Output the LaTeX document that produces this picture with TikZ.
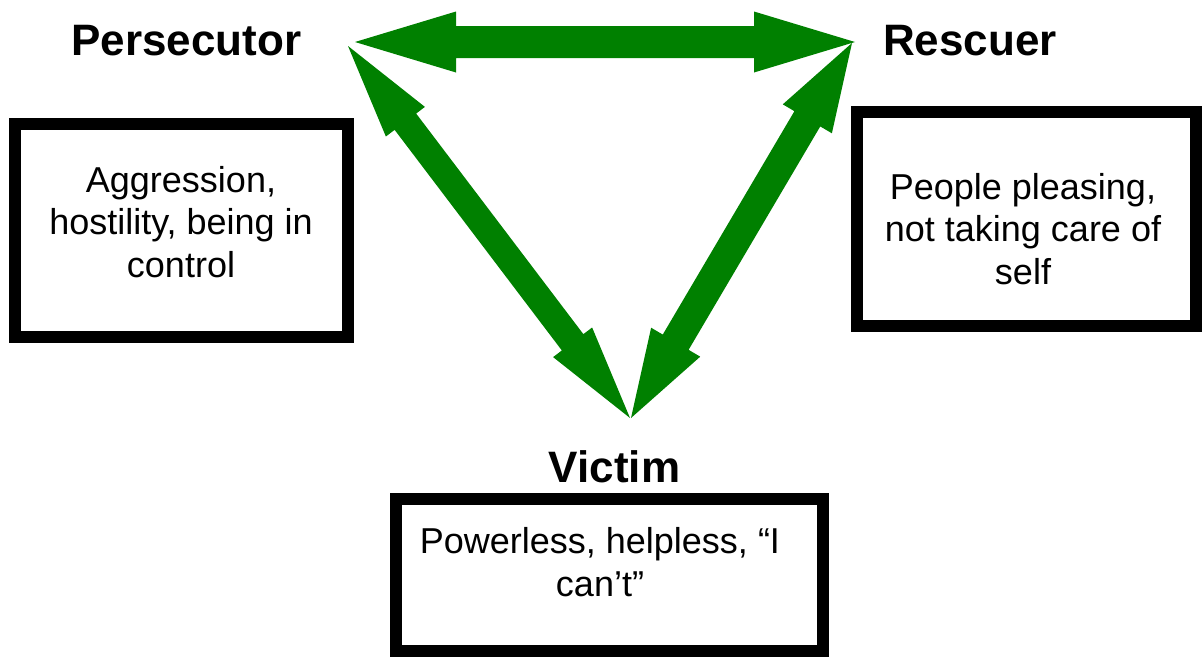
\documentclass[tikz,border=0pt]{standalone}
\usepackage{fontspec}
\setmainfont{Liberation Sans}
\usetikzlibrary{calc}

\definecolor{arrowgreen}{RGB}{0,128,0}

% Double-headed block arrow between two named tips:
% #1,#2 tips, #3 shaft half-width, #4 head half-width, #5 head length
\newcommand{\dblblockarrow}[5]{%
  \fill[arrowgreen]
    (#1)
    -- ($(#1)!#5!(#2)!#4!90:(#2)$)
    -- ($(#1)!#5!(#2)!#3!90:(#2)$)
    -- ($(#2)!#5!(#1)!#3!-90:(#1)$)
    -- ($(#2)!#5!(#1)!#4!-90:(#1)$)
    -- (#2)
    -- ($(#2)!#5!(#1)!#4!90:(#1)$)
    -- ($(#2)!#5!(#1)!#3!90:(#1)$)
    -- ($(#1)!#5!(#2)!#3!-90:(#2)$)
    -- ($(#1)!#5!(#2)!#4!-90:(#2)$)
    -- cycle;}

\tikzset{
  role/.style={font=\fontsize{44}{50}\selectfont\bfseries, anchor=base, inner sep=0pt},
  descbox/.style={draw=black, line width=12pt, fill=white, inner sep=0pt},
  % base anchor of a multi-line text sits on its last line
  desctext/.style={font=\fontsize{36}{42.5}\selectfont, align=center, anchor=base, inner sep=0pt},
}

\begin{document}
\begin{tikzpicture}[x=1pt,y=-1pt]
  \useasboundingbox (0,0) rectangle (1202,656);

  % role titles
  \node[role] (persecutor) at (186.5,55) {Persecutor};
  \node[role] (rescuer)    at (970,55)   {Rescuer};
  \node[role] (victim)     at (614.5,482) {Victim};

  % description boxes
  \node[descbox, minimum width=333pt, minimum height=213.5pt] (pbox) at (181.5,230.25) {};
  \node[descbox, minimum width=339pt, minimum height=214pt]   (rbox) at (1026.5,219) {};
  \node[descbox, minimum width=427pt, minimum height=152pt]   (vbox) at (609.5,575) {};

  \node[desctext] (ptext) at (181,277) {Aggression,\\hostility, being in\\control};
  \node[desctext] (rtext) at (1023,284) {People pleasing,\\not taking care of\\self};
  \node[desctext] (vtext) at (600,596) {Powerless, helpless, “I\\can’t”};

  % arrow tips
  \coordinate (pTop)  at (355,42);
  \coordinate (rTop)  at (855,42);
  \coordinate (pDiag) at (348,46);
  \coordinate (vLeft) at (630,418);
  \coordinate (rDiag) at (852,43);
  \coordinate (vRight) at (631,418);

  % the drama triangle
  \dblblockarrow{pTop}{rTop}{16pt}{30.5pt}{101pt}
  \dblblockarrow{pDiag}{vLeft}{13.5pt}{24.5pt}{95pt}
  \dblblockarrow{rDiag}{vRight}{15pt}{28.5pt}{88pt}
\end{tikzpicture}
\end{document}
